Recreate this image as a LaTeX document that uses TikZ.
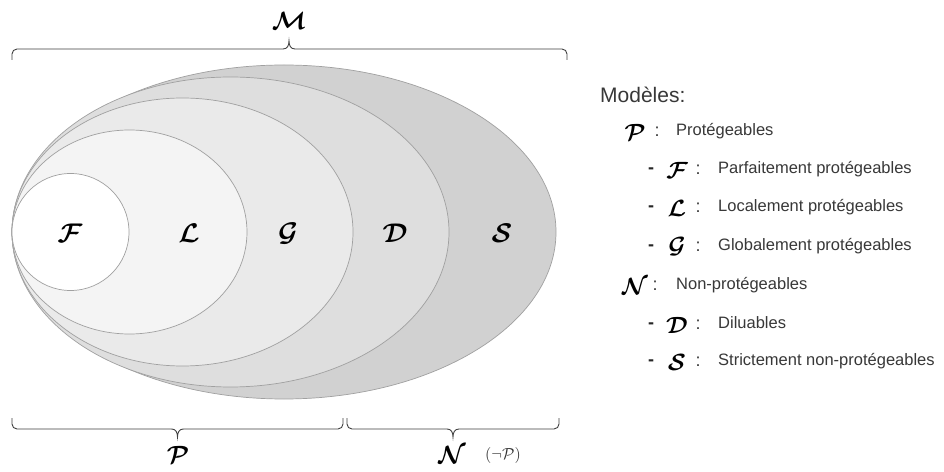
\documentclass[tikz,border=0pt]{standalone}
\usepackage{amsmath}
\usepackage{fontspec}
\newfontfamily\legfont{Liberation Sans}
\definecolor{cS}{HTML}{D1D1D1}
\definecolor{cD}{HTML}{DEDEDE}
\definecolor{cG}{HTML}{EAEAEA}
\definecolor{cL}{HTML}{F4F4F4}
\definecolor{edgec}{HTML}{A0A0A0}
\definecolor{txt}{HTML}{383838}
\tikzset{
  setshape/.style={draw=edgec, line width=0.7pt},
  lab/.style={scale=2.7, inner sep=0pt},
  legsym/.style={scale=2.35, inner sep=0pt},
  legtxt/.style={font=\legfont\fontsize{16.5}{20}\selectfont, text=txt, anchor=mid west, inner sep=0pt},
  legcol/.style={font=\legfont\fontsize{18}{20}\selectfont, text=txt, inner sep=0pt},
  legdash/.style={font=\legfont\bfseries\fontsize{18}{20}\selectfont, text=black!85, inner sep=0pt},
  bracelin/.style={draw=black!75, line width=0.9pt}
}
\begin{document}
\begin{tikzpicture}[x=1pt,y=1pt]
\useasboundingbox[fill=white] (0,0) rectangle (944,471);
% nested sets
\path[setshape, fill=cS] (284,239) ellipse [x radius=272pt, y radius=167pt];
\path[setshape, fill=cD] (230.5,239) ellipse [x radius=218.5pt, y radius=155pt];
\path[setshape, fill=cG] (182.5,239) ellipse [x radius=170.5pt, y radius=134pt];
\path[setshape, fill=cL] (129.5,239) ellipse [x radius=117.5pt, y radius=102pt];
\path[setshape, fill=white] (70.5,239) circle [radius=58.5pt];
% region labels
\node[lab] (lF) at (70,238) {$\boldsymbol{\mathcal{F}}$};
\node[lab] (lL) at (189,238) {$\boldsymbol{\mathcal{L}}$};
\node[lab] (lG) at (288,237) {$\boldsymbol{\mathcal{G}}$};
\node[lab] (lD) at (395,238) {$\boldsymbol{\mathcal{D}}$};
\node[lab] (lS) at (502,238) {$\boldsymbol{\mathcal{S}}$};
% top brace
\draw[bracelin] (12,411) -- (12,417) arc[start angle=180, end angle=90, radius=5pt]
  -- (283,422) .. controls (287,422) and (289,425) .. (289,430)
  .. controls (289,425) and (291,422) .. (295,422)
  -- (562,422) arc[start angle=90, end angle=0, radius=5pt] -- (567,411);
\node[scale=2.5, inner sep=0pt] (tM) at (289,450) {$\boldsymbol{\mathcal{M}}$};
% bottom braces
\draw[bracelin] (12,53) -- (12,47) arc[start angle=180, end angle=270, radius=5pt]
  -- (171.5,42) .. controls (175.5,42) and (177.5,39) .. (177.5,34)
  .. controls (177.5,39) and (179.5,42) .. (183.5,42)
  -- (338,42) arc[start angle=270, end angle=360, radius=5pt] -- (343,53);
\draw[bracelin] (347,53) -- (347,47) arc[start angle=180, end angle=270, radius=5pt]
  -- (447,42) .. controls (451,42) and (453,39) .. (453,34)
  .. controls (453,39) and (455,42) .. (459,42)
  -- (554,42) arc[start angle=270, end angle=360, radius=5pt] -- (559,53);
\node[scale=2.5, inner sep=0pt] (bP) at (178,16) {$\boldsymbol{\mathcal{P}}$};
\node[scale=2.5, inner sep=0pt] (bN) at (452,16) {$\boldsymbol{\mathcal{N}}$};
\node[scale=1.6, inner sep=0pt, text=black!80] (bnP) at (503,16) {$(\neg\mathcal{P})$};
% legend
\node[font=\legfont\fontsize{21}{24}\selectfont, text=txt, anchor=west, inner sep=0pt] (title) at (600,376) {Modèles:};
% P row
\node[legsym] (sP) at (635,339) {$\boldsymbol{\mathcal{P}}$};
\node[legcol] (cP) at (657,339) {:};
\node[legtxt] (tP) at (676,338) {Protégeables};
% F row
\node[legdash] (dF) at (651,300) {-};
\node[legsym] (sF) at (677,301) {$\boldsymbol{\mathcal{F}}$};
\node[legcol] (cF) at (698,301) {:};
\node[legtxt] (tF) at (718,300) {Parfaitement protégeables};
% L row
\node[legdash] (dL) at (651,262) {-};
\node[legsym] (sL) at (677,263) {$\boldsymbol{\mathcal{L}}$};
\node[legcol] (cL) at (698,263) {:};
\node[legtxt] (tL) at (718,262) {Localement protégeables};
% G row
\node[legdash] (dG) at (651,223) {-};
\node[legsym] (sG) at (677,224) {$\boldsymbol{\mathcal{G}}$};
\node[legcol] (cG) at (698,224) {:};
\node[legtxt] (tG) at (718,223) {Globalement protégeables};
% N row
\node[legsym] (sN) at (635,185) {$\boldsymbol{\mathcal{N}}$};
\node[legcol] (cN) at (655,185) {:};
\node[legtxt] (tN) at (676,184) {Non-protégeables};
% D row
\node[legdash] (dD) at (651,145) {-};
\node[legsym] (sD) at (677,146) {$\boldsymbol{\mathcal{D}}$};
\node[legcol] (cD) at (698,146) {:};
\node[legtxt] (tD) at (718,145) {Diluables};
% S row
\node[legdash] (dS) at (651,108) {-};
\node[legsym] (sS) at (677,109) {$\boldsymbol{\mathcal{S}}$};
\node[legcol] (cS) at (698,109) {:};
\node[legtxt] (tS) at (718,108) {Strictement non-protégeables};
\end{tikzpicture}
\end{document}
